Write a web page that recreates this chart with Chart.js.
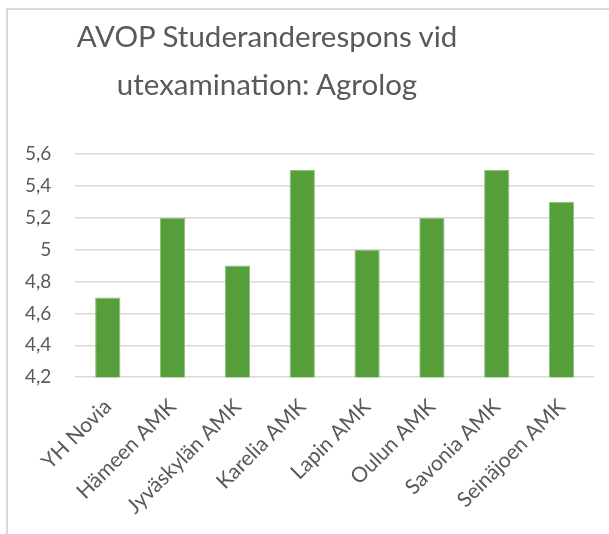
<!DOCTYPE html>
<html>
<head>
<meta charset="utf-8">
<script src="https://cdn.jsdelivr.net/npm/chart.js@4/dist/chart.umd.min.js"></script>
<style>
    html, body { margin: 0; padding: 0; background: #fff; overflow: hidden; }
    #frame {
        position: absolute; left: 6px; top: 8px;
        width: 700px; height: 600px;
        border: 2px solid #d9d9d9;
    }
    #wrap { position: absolute; left: 0; top: 0; width: 609px; height: 534px; }
    #title {
        position: absolute; left: 0; top: 12px; width: 534px;
        text-align: center; color: #595959;
        font: 29.5px/48px Lato, "Open Sans", sans-serif;
    }
</style>
</head>
<body>
<div id="frame"></div>
<div id="wrap"><canvas id="avopChart"></canvas></div>
<div id="title"></div>
<script>
// Chart data (AVOP respons, Agrolog)
const titleLines = ["AVOP Studeranderespons vid", "utexamination: Agrolog"];
const schools = ["YH Novia", "Hämeen AMK", "Jyväskylän AMK", "Karelia AMK",
                 "Lapin AMK", "Oulun AMK", "Savonia AMK", "Seinäjoen AMK"];
const scores = [4.7, 5.2, 4.9, 5.5, 5.0, 5.2, 5.5, 5.3];
const yMin = 4.2;
const yMax = 5.6;
const yStep = 0.2;

const TEXT_COLOR = "#595959";
const FONT = "Lato, 'Open Sans', sans-serif";

// title sits off-centre in the original, so it is plain html text
document.getElementById("title").innerHTML = titleLines.join("<br>");

new Chart(document.getElementById("avopChart"), {
    type: "bar",
    data: {
        labels: schools,
        datasets: [{
            data: scores,
            backgroundColor: "#559e3a",
            borderColor: "#8cc27a",
            borderWidth: 1,
            barPercentage: 0.39,
            categoryPercentage: 1
        }]
    },
    options: {
        responsive: true,
        maintainAspectRatio: false,
        animation: false,
        layout: { padding: { left: 1, right: 15, top: 154, bottom: 6 } },
        plugins: {
            legend: { display: false },
            tooltip: { enabled: false },
            title: { display: false }
        },
        scales: {
            x: {
                grid: { display: false },
                border: { display: false },
                // rotated labels may hang outside the plot, like in the original
                afterFit: scale => { scale.paddingLeft = 0; scale.paddingRight = 0; },
                ticks: {
                    color: TEXT_COLOR,
                    font: { family: FONT, size: 21 },
                    minRotation: 45,
                    maxRotation: 45,
                    padding: 9
                }
            },
            y: {
                min: yMin,
                max: yMax,
                border: { display: false },
                grid: { color: "#d9d9d9", lineWidth: 1.5, drawTicks: false },
                ticks: {
                    stepSize: yStep,
                    color: TEXT_COLOR,
                    font: { family: FONT, size: 19 },
                    padding: 24,
                    callback: v => String(Number(v.toFixed(1))).replace(".", ",")
                }
            }
        }
    }
});
</script>
</body>
</html>
